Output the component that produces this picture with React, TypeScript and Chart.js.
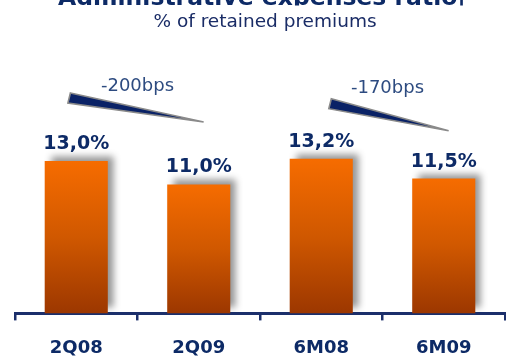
import React, { useEffect, useRef } from "react";
import { Chart, registerables } from "chart.js";

Chart.register(...registerables);

const categories = ["2Q08", "2Q09", "6M08", "6M09"];
const ratioValues = [13.0, 11.0, 13.2, 11.5];
const valueLabels = ["13,0%", "11,0%", "13,2%", "11,5%"];
const titleText = "Administrative expenses ratio|";
const subtitleText = "% of retained premiums";
// change annotations: from category index to category index, label
const changeFrom = [0, 2];
const changeTo = [1, 3];
const changeLabels = ["-200bps", "-170bps"];

const NAVY = "#0d2a66";
const FONT = "'DejaVu Sans', Verdana, sans-serif";

const decorPlugin = {
  id: "decor",
  beforeDatasetsDraw(chart: any) {
    const ctx = chart.ctx;
    ctx.save();
    ctx.shadowColor = "rgba(0,0,0,0.42)";
    ctx.shadowBlur = 7;
    ctx.shadowOffsetX = 6;
    ctx.shadowOffsetY = -5;
  },
  afterDatasetsDraw(chart: any) {
    const ctx = chart.ctx;
    ctx.restore();
    const meta = chart.getDatasetMeta(0);
    ctx.save();
    ctx.fillStyle = NAVY;
    ctx.font = `bold 19px ${FONT}`;
    ctx.textAlign = "center";
    ctx.textBaseline = "alphabetic";
    meta.data.forEach((bar: any, i: number) => {
      ctx.fillText(valueLabels[i], bar.x, bar.y - 12);
    });
    ctx.restore();
  },
  afterDraw(chart: any) {
    const ctx = chart.ctx;
    const xs = chart.scales.x;
    const ys = chart.scales.y;
    const w = chart.width;
    ctx.save();
    // title (cropped at top)
    ctx.save();
    ctx.beginPath();
    ctx.rect(0, 0, w, 5.5);
    ctx.clip();
    ctx.fillStyle = NAVY;
    ctx.font = `bold 23.5px ${FONT}`;
    ctx.textAlign = "center";
    ctx.textBaseline = "alphabetic";
    ctx.fillText(titleText, 262, 5);
    ctx.restore();
    // subtitle
    ctx.fillStyle = "#1a2c66";
    ctx.font = `18.5px ${FONT}`;
    ctx.textAlign = "center";
    ctx.textBaseline = "alphabetic";
    ctx.fillText(subtitleText, 265, 27);

    // change wedges
    const step = xs.getPixelForValue(1) - xs.getPixelForValue(0);
    changeFrom.forEach((fi, k) => {
      const ti = changeTo[k];
      const x0 = xs.getPixelForValue(fi);
      const x1 = xs.getPixelForValue(ti);
      const yTopPx = ys.getPixelForValue(Math.max(ratioValues[fi], ratioValues[ti]));
      const startX = x0 - 0.06 * step + (k === 1 ? 0.13 * step : 0);
      const startTop = yTopPx - (k === 1 ? 60 : 68);
      const endX = x1 + 0.04 * step;
      const endY = startTop + (k === 1 ? 32 : 29);
      ctx.beginPath();
      ctx.moveTo(startX + 1.5, startTop);
      ctx.lineTo(endX, endY);
      ctx.lineTo(startX - 1, startTop + 10);
      ctx.closePath();
      ctx.fillStyle = "#0a2266";
      ctx.fill();
      ctx.strokeStyle = "#8a8a8a";
      ctx.lineWidth = 1.6;
      ctx.lineJoin = "miter";
      ctx.stroke();
      // label
      ctx.fillStyle = "#2d4b80";
      ctx.font = `18px ${FONT}`;
      ctx.textAlign = "center";
      ctx.fillText(
        changeLabels[k],
        (x0 + x1) / 2 + (k === 1 ? 5 : 0),
        startTop - (k === 1 ? 6 : 2)
      );
    });
    ctx.restore();
  },
};

export default function App() {
  const ref = useRef<HTMLCanvasElement>(null);
  useEffect(() => {
    if (!ref.current) return;
    const chart = new Chart(ref.current, {
      type: "bar",
      data: {
        labels: categories,
        datasets: [
          {
            data: ratioValues,
            backgroundColor: (context: any) => {
              const c = context.chart;
              const area = c.chartArea;
              if (!area || context.raw === undefined) return "#e06000";
              const yTop = c.scales.y.getPixelForValue(context.raw);
              const g = c.ctx.createLinearGradient(0, yTop, 0, area.bottom);
              g.addColorStop(0, "#f66c00");
              g.addColorStop(0.5, "#d05800");
              g.addColorStop(1, "#9c3700");
              return g;
            },
            borderWidth: 0,
            categoryPercentage: 1,
            barPercentage: 0.515,
          },
        ],
      },
      options: {
        responsive: false,
        animation: false,
        layout: { padding: { top: 79, left: 15, right: 1, bottom: -17 } },
        plugins: {
          legend: { display: false },
          tooltip: { enabled: false },
        },
        scales: {
          y: { display: false, min: 0, max: 20 },
          x: {
            grid: {
              display: true,
              drawOnChartArea: false,
              drawTicks: true,
              tickLength: 7,
              color: "#1b2f6b",
              lineWidth: 2.5,
              offset: true,
            },
            border: { display: true, color: "#1b2f6b", width: 3 },
            ticks: {
              color: NAVY,
              padding: 17,
              font: { family: FONT, size: 18, weight: "bold", lineHeight: 1.2 },
            },
          },
        },
      },
      plugins: [decorPlugin],
    });
    return () => chart.destroy();
  }, []);
  return (
    <div style={{ position: "absolute", left: 0, top: 0, width: 506, height: 359, background: "#fff" }}>
      <canvas ref={ref} width={506} height={359} style={{ display: "block" }} />
    </div>
  );
}
